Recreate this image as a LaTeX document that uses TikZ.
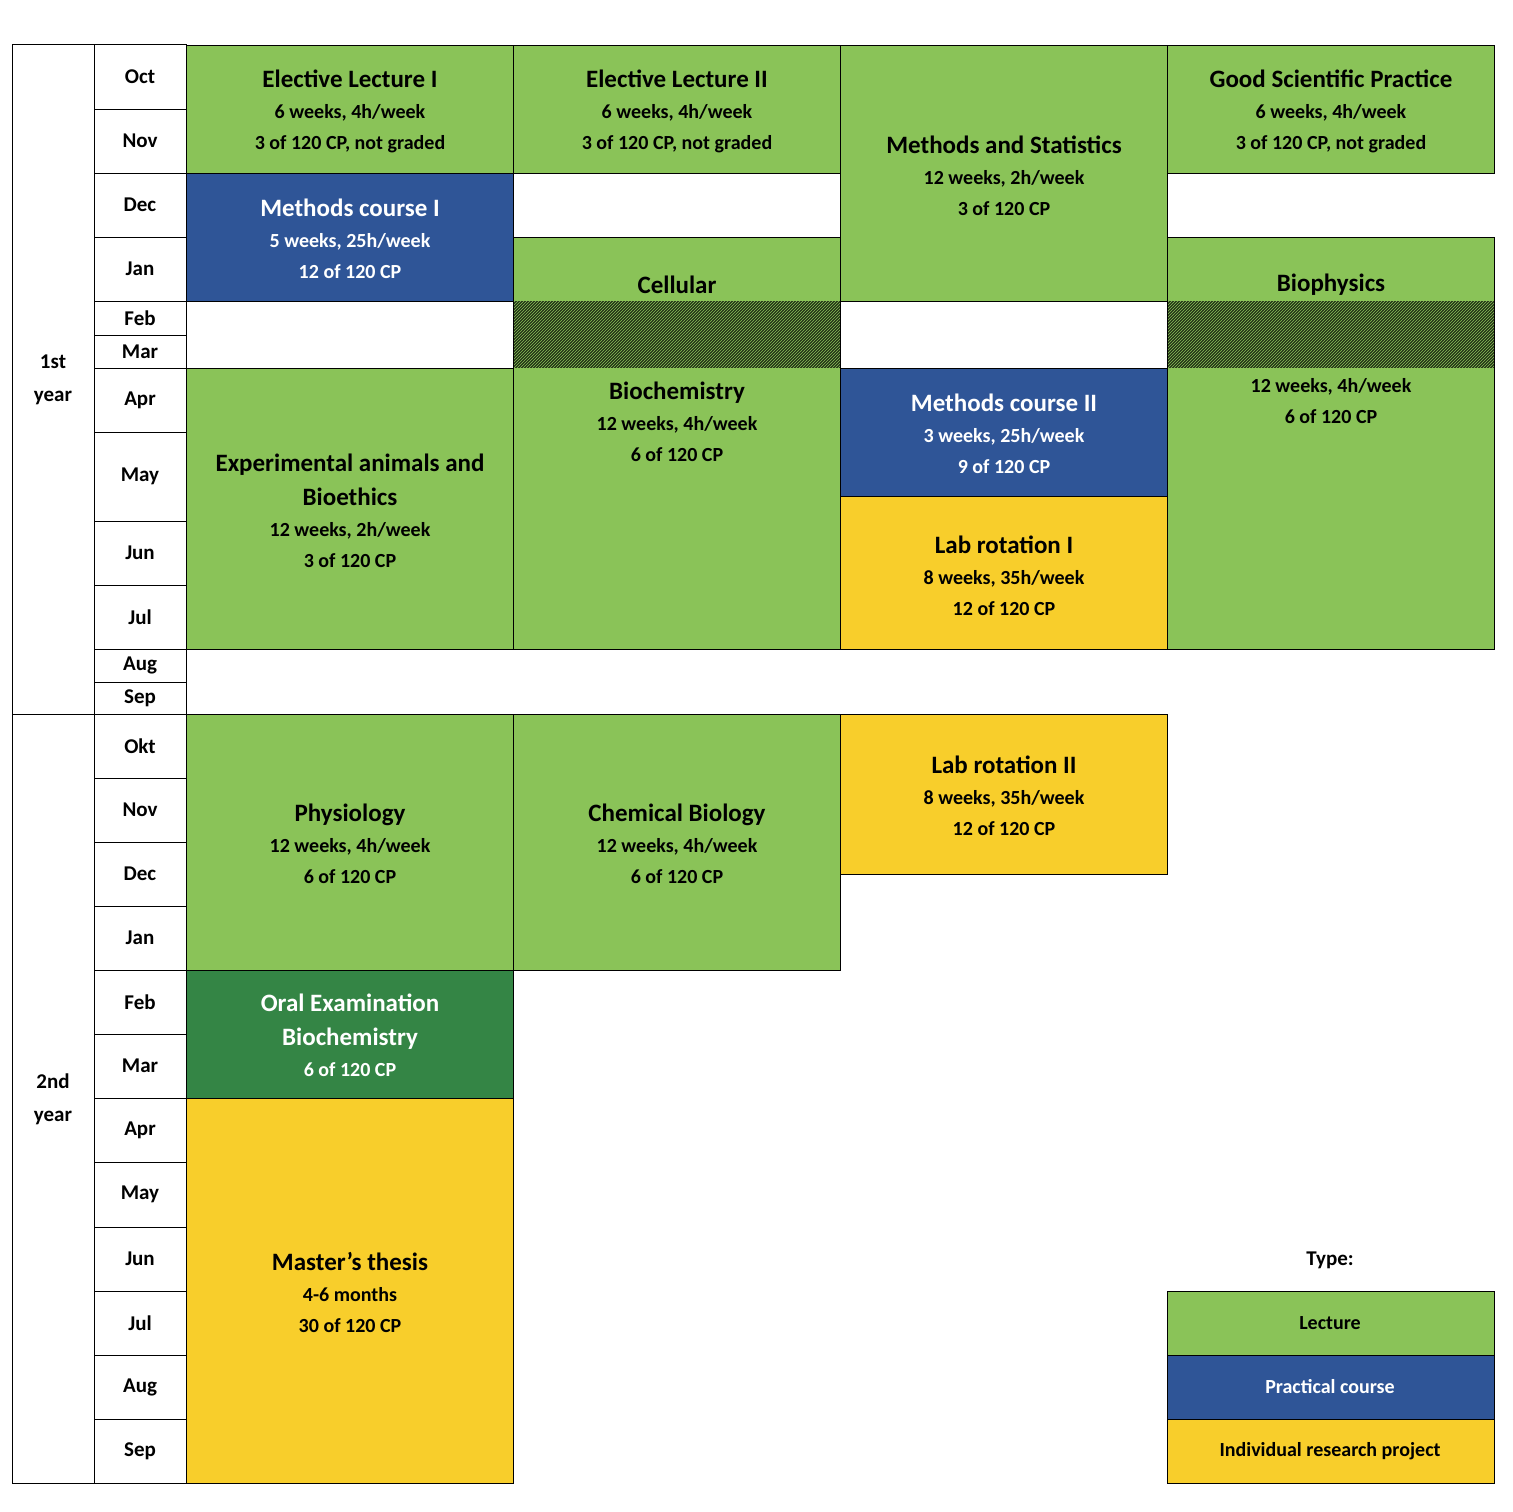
\documentclass[tikz,border=0pt]{standalone}
\usepackage{fontspec}
\setmainfont{Carlito}
\usetikzlibrary{patterns}
\definecolor{lec}{RGB}{138,195,88}
\definecolor{prac}{RGB}{47,85,151}
\definecolor{proj}{RGB}{248,206,43}
\definecolor{oral}{RGB}{52,133,69}
\tikzset{
 blk/.style={draw=black,line width=0.8pt},
 cell/.style={draw=black,line width=1pt},
 ttl/.style={font=\bfseries\fontsize{25}{34}\selectfont},
 txt/.style={align=center,font=\bfseries\fontsize{20}{31}\selectfont},
 mon/.style={font=\bfseries\fontsize{21}{25}\selectfont},
}
\newcommand{\T}[1]{{\fontsize{25}{34}\selectfont #1}}
\begin{document}
\begin{tikzpicture}[x=1pt,y=-1pt]
\useasboundingbox (0,0) rectangle (1512,1512);
% month cells
\foreach \a/\b/\m in {45/109/Oct,109/173/Nov,173/237/Dec,237/301/Jan,301/335/Feb,335/368/Mar,368/432/Apr,432/521/May,521/585/Jun,585/649/Jul,649/682/Aug,682/714/Sep,714/778/Okt,778/842/Nov,842/906/Dec,906/970/Jan,970/1034/Feb,1034/1098/Mar,1098/1162/Apr,1162/1227/May,1227/1291/Jun,1291/1355/Jul,1355/1419/Aug,1419/1483/Sep}{
 \draw[cell] (94,\a) rectangle (186,\b);
 \node[mon] (m\a) at (140,{(\a+\b)/2}) {\m};
}
\draw[cell] (12,45) rectangle (94,714);
\draw[cell] (12,714) rectangle (94,1483);
\node[txt,font=\bfseries\fontsize{21}{33}\selectfont] (y1) at (53,380) {1st\\year};
\node[txt,font=\bfseries\fontsize{21}{33}\selectfont] (y2) at (53,1099) {2nd\\year};
% blocks
\draw[blk,fill=lec] (186,45) rectangle (513,173);
\node[txt] (b1) at (350,111) {\T{Elective Lecture I}\\6 weeks, 4h/week\\3 of 120 CP, not graded};
\draw[blk,fill=lec] (513,45) rectangle (840,173);
\node[txt] (b2) at (677,111) {\T{Elective Lecture II}\\6 weeks, 4h/week\\3 of 120 CP, not graded};
\draw[blk,fill=lec] (840,45) rectangle (1167,301);
\node[txt] (b3) at (1004,176) {\T{Methods and Statistics}\\12 weeks, 2h/week\\3 of 120 CP};
\draw[blk,fill=lec] (1167,45) rectangle (1494,173);
\node[txt] (b4) at (1331,111) {\T{Good Scientific Practice}\\6 weeks, 4h/week\\3 of 120 CP, not graded};
\draw[blk,fill=prac] (186,173) rectangle (513,301);
\node[txt,text=white] (b5) at (350,239) {\T{Methods course I}\\5 weeks, 25h/week\\12 of 120 CP};
% cellular biochemistry
\draw[blk,fill=lec] (513,237) rectangle (840,649);
\fill[black!75!lec] (513,301) rectangle (840,368);
\fill[pattern=north east lines,pattern color=lec] (513,301) rectangle (840,368);
\draw[blk] (513,237) rectangle (840,649);
\node[txt] (b6a) at (677,285) {\T{Cellular}};
\node[txt] (b6) at (677,422) {\T{Biochemistry}\\12 weeks, 4h/week\\6 of 120 CP};
% biophysics
\draw[blk,fill=lec] (1167,237) rectangle (1494,649);
\fill[black!75!lec] (1167,301) rectangle (1494,368);
\fill[pattern=north east lines,pattern color=lec] (1167,301) rectangle (1494,368);
\draw[blk] (1167,237) rectangle (1494,649);
\node[txt] (b7a) at (1331,285) {\T{Biophysics}};
\node[txt] (b7) at (1331,401) {12 weeks, 4h/week\\6 of 120 CP};
\draw[blk,fill=lec] (186,368) rectangle (513,649);
\node[txt] (b8) at (350,511) {\T{Experimental animals and}\\[3pt]\T{Bioethics}\\12 weeks, 2h/week\\3 of 120 CP};
\draw[blk,fill=prac] (840,368) rectangle (1167,496);
\node[txt,text=white] (b9) at (1004,434) {\T{Methods course II}\\3 weeks, 25h/week\\9 of 120 CP};
\draw[blk,fill=proj] (840,496) rectangle (1167,649);
\node[txt] (b10) at (1004,576) {\T{Lab rotation I}\\8 weeks, 35h/week\\12 of 120 CP};
% 2nd year
\draw[blk,fill=lec] (186,714) rectangle (513,970);
\node[txt] (b11) at (350,844) {\T{Physiology}\\12 weeks, 4h/week\\6 of 120 CP};
\draw[blk,fill=lec] (513,714) rectangle (840,970);
\node[txt] (b12) at (677,844) {\T{Chemical Biology}\\12 weeks, 4h/week\\6 of 120 CP};
\draw[blk,fill=proj] (840,714) rectangle (1167,874);
\node[txt] (b13) at (1004,796) {\T{Lab rotation II}\\8 weeks, 35h/week\\12 of 120 CP};
\draw[blk,fill=oral] (186,970) rectangle (513,1098);
\node[txt,text=white] (b14) at (350,1035) {\T{Oral Examination}\\[3pt]\T{Biochemistry}\\6 of 120 CP};
\draw[blk,fill=proj] (186,1098) rectangle (513,1483);
\node[txt] (b15) at (350,1292) {\T{Master's thesis}\\4-6 months\\30 of 120 CP};
% legend
\node[txt,font=\bfseries\fontsize{21}{25}\selectfont] (ty) at (1330,1260) {Type:};
\draw[blk,fill=lec] (1167,1291) rectangle (1494,1355);
\node[txt] (l1) at (1330,1323) {Lecture};
\draw[blk,fill=prac] (1167,1355) rectangle (1494,1419);
\node[txt,text=white] (l2) at (1330,1387) {Practical course};
\draw[blk,fill=proj] (1167,1419) rectangle (1494,1483);
\node[txt] (l3) at (1330,1451) {Individual research project};
\end{tikzpicture}
\end{document}
